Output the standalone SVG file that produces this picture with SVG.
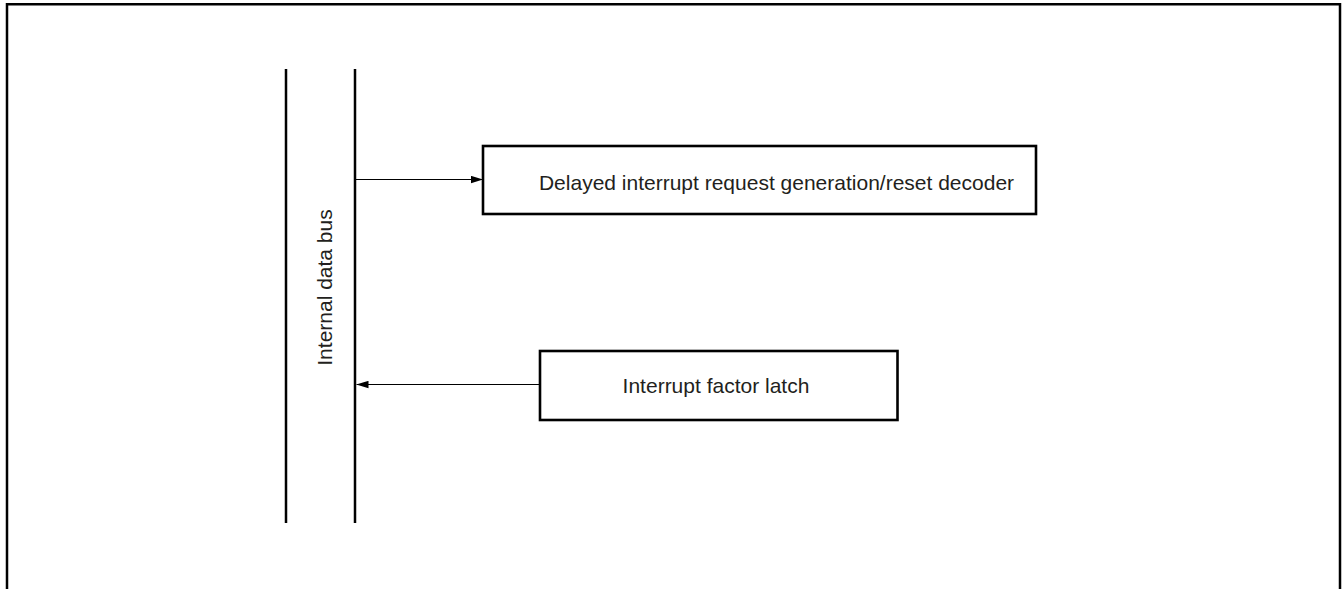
<svg xmlns="http://www.w3.org/2000/svg" width="1343" height="589" viewBox="0 0 1343 589">
<style>
.frame{fill:none;stroke:#000;stroke-width:2.5}
.bus{fill:none;stroke:#000;stroke-width:2.5}
.box{fill:#fff;stroke:#000;stroke-width:2.6}
.conn{fill:none;stroke:#000;stroke-width:1.2}
.lbl{font-family:"Liberation Sans",Arial,sans-serif;font-size:21px;fill:#231f20}
</style>
<defs>
<marker id="arr" markerWidth="12" markerHeight="8" refX="12" refY="4" orient="auto" markerUnits="userSpaceOnUse">
<path d="M0,0.3 L12,4 L0,7.7 Z" fill="#000"/>
</marker>
</defs>
<rect width="1343" height="589" fill="#fff"/>
<path class="frame" d="M7,600 L7,4.2 L1340,4.2 L1340,600"/>
<g id="bus">
<line class="bus" x1="286" y1="69" x2="286" y2="523"/>
<line class="bus" x1="355" y1="69" x2="355" y2="523"/>
<text class="lbl" text-anchor="middle" transform="translate(331.5,287.5) rotate(-90)">Internal data bus</text>
</g>
<g id="decoder">
<rect class="box" x="483" y="146" width="553" height="68"/>
<text class="lbl" x="776.5" y="190" text-anchor="middle">Delayed interrupt request generation/reset decoder</text>
</g>
<g id="latch">
<rect class="box" x="540" y="351" width="357.5" height="69"/>
<text class="lbl" x="716" y="392.7" text-anchor="middle">Interrupt factor latch</text>
</g>
<g id="connectors">
<line class="conn" x1="356" y1="179.5" x2="483" y2="179.5" marker-end="url(#arr)"/>
<line class="conn" x1="540" y1="384.5" x2="356.5" y2="384.5" marker-end="url(#arr)"/>
</g>
</svg>
